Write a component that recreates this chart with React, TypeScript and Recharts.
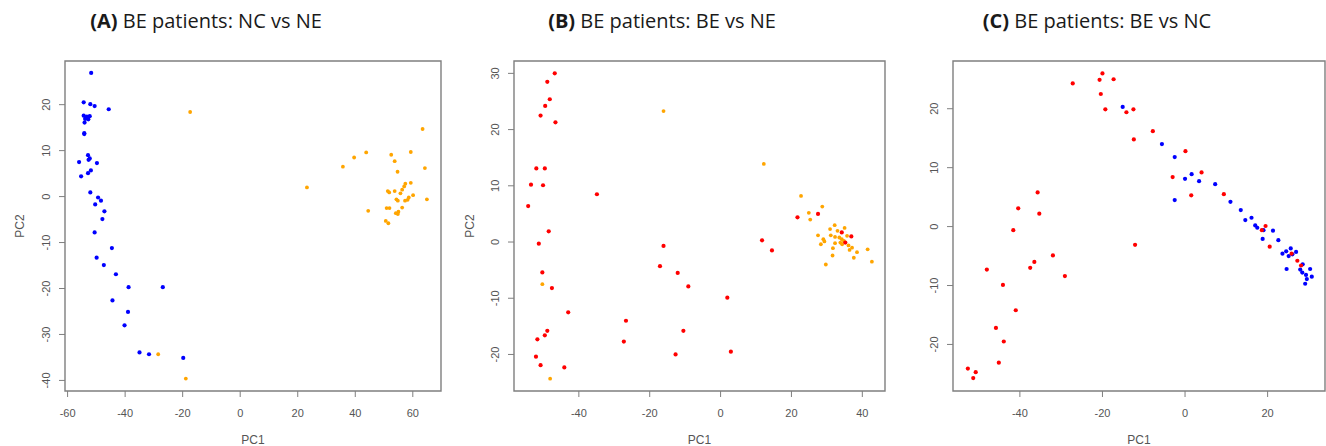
import { ScatterChart, Scatter, XAxis, YAxis, ReferenceArea } from 'recharts';

// PCA scores
const aNC = [
  [-51.8, 26.9], [-54.4, 20.5], [-52.1, 20.1], [-50.6, 19.7], [-45.7, 19.0],
  [-54.4, 17.6], [-53.3, 17.4], [-52.3, 17.5], [-53.9, 16.9], [-52.8, 16.8], [-53.5, 17.2],
  [-54.1, 16.1], [-54.2, 13.8], [-54.2, 13.6], [-52.9, 9.0], [-56.0, 7.5], [-52.7, 8.0],
  [-52.3, 8.3], [-49.8, 7.3], [-55.3, 4.4], [-52.9, 5.1], [-51.9, 5.7], [-52.1, 0.9],
  [-49.4, -0.2], [-48.4, -0.9], [-50.4, -1.7], [-47.2, -3.2], [-47.9, -4.9], [-50.6, -7.8],
  [-44.6, -11.2], [-49.9, -13.3], [-47.4, -14.9], [-43.2, -16.9], [-38.8, -19.7], [-26.9, -19.7],
  [-44.4, -22.6], [-39.0, -25.1], [-40.2, -28.0], [-35.0, -33.9], [-31.7, -34.3], [-19.8, -35.1],
];
const aNE = [
  [-17.4, 18.4], [-28.5, -34.3], [-18.9, -39.6], [23.2, 2.0], [35.7, 6.5], [39.6, 8.5],
  [43.8, 9.6], [44.5, -3.1], [52.5, 9.1], [59.3, 9.7], [53.7, 7.7], [54.7, 5.4], [63.4, 14.7],
  [64.2, 6.2], [64.9, -0.6], [57.4, 2.8], [59.3, 3.0], [57.0, 2.2], [56.3, 1.5], [55.7, 0.7],
  [53.7, 1.2], [51.3, 1.2], [51.8, 0.9], [60.1, 0.3], [58.6, -0.2], [58.2, -0.7], [57.3, -0.9],
  [54.3, -0.6], [54.8, -0.9], [50.9, -2.5], [51.9, -2.5], [56.3, -2.4], [55.0, -3.3],
  [54.1, -3.6], [54.8, -3.8], [50.6, -5.3], [51.5, -5.8],
];
const bBE = [
  [-46.8, 30.0], [-48.9, 28.5], [-48.2, 25.4], [-49.5, 24.2], [-50.8, 22.5], [-46.6, 21.3],
  [-52.0, 13.1], [-49.6, 13.1], [-53.5, 10.2], [-50.1, 10.1], [-34.9, 8.5], [-54.3, 6.4],
  [-48.5, 1.9], [-51.3, -0.3], [-50.3, -5.4], [-47.6, -8.2], [-43.0, -12.5], [-48.9, -15.8],
  [-49.6, -16.6], [-51.7, -17.3], [-52.1, -20.4], [-50.8, -21.9], [-44.1, -22.3], [-16.1, -0.7],
  [-17.1, -4.3], [-12.1, -5.5], [-9.1, -7.9], [-26.7, -14.0], [-27.3, -17.7], [-10.5, -15.8],
  [-12.7, -20.0], [1.9, -9.9], [2.9, -19.5], [11.7, 0.3], [14.5, -1.5], [21.7, 4.4],
  [27.5, 5.0], [34.2, 1.7], [36.9, 1.0], [35.2, -0.1],
];
const bNE = [
  [-16.1, 23.3], [12.2, 13.9], [-50.3, -7.5], [-48.1, -24.3], [22.7, 8.2], [28.7, 6.3],
  [24.9, 5.2], [25.3, 4.0], [32.2, 3.0], [35.0, 2.5], [30.9, 2.3], [33.0, 2.0], [27.5, 1.2],
  [31.1, 1.2], [32.3, 0.9], [33.5, 0.8], [34.2, 0.5], [35.7, 1.1], [29.0, 0.5], [29.3, 0.1],
  [28.3, -0.4], [32.3, -0.2], [34.3, -0.4], [36.1, -0.6], [31.7, -1.1], [37.1, -1.0],
  [36.4, -1.4], [38.5, -1.8], [41.5, -1.3], [31.6, -2.4], [37.6, -2.8], [42.7, -3.5],
  [29.7, -4.0], [34.8, 0.2], [33.8, -0.1],
];
const cNC = [
  [-15.1, 20.3], [-5.6, 14.0], [-2.5, 11.8], [-2.5, 4.5], [0.0, 8.1], [1.6, 8.9], [3.4, 7.7],
  [7.3, 7.2], [11.0, 4.2], [13.5, 2.8], [14.6, 1.1], [16.1, 1.5], [17.0, 0.2], [17.5, -0.2],
  [19.0, -0.6], [18.8, -2.1], [21.3, -0.7], [22.6, -2.3], [23.6, -4.6], [24.5, -4.2],
  [25.6, -3.7], [25.1, -5.0], [26.0, -4.7], [26.9, -4.3], [24.6, -7.2], [28.5, -6.4],
  [27.9, -7.3], [28.4, -7.8], [29.3, -8.2], [30.3, -7.2], [30.7, -8.5], [29.5, -8.9], [29.1, -9.7],
];
const cBE = [
  [-52.6, -24.1], [-51.3, -25.7], [-50.7, -24.7], [-48.0, -7.3], [-45.1, -23.1], [-45.8, -17.2],
  [-44.1, -9.9], [-43.9, -19.5], [-41.0, -14.2], [-41.6, -0.6], [-40.4, 3.1], [-37.5, -7.0],
  [-36.5, -6.0], [-35.7, 5.8], [-35.3, 2.2], [-32.0, -4.9], [-29.1, -8.4], [-27.2, 24.3],
  [-20.7, 24.9], [-20.0, 26.0], [-20.4, 22.5], [-19.3, 19.9], [-17.3, 25.0], [-14.2, 19.4],
  [-12.5, 19.9], [-12.4, 14.8], [-12.1, -3.1], [-7.8, 16.2], [-3.0, 8.4], [0.1, 12.8],
  [1.5, 5.3], [4.0, 9.2], [9.4, 5.5], [19.5, 0.1], [18.6, -0.6], [20.5, -3.4], [27.2, -5.8],
  [25.8, -4.6], [28.1, -6.6],
];

const xTicksA = [-60, -40, -20, 0, 20, 40, 60];
const yTicksA = [-40, -30, -20, -10, 0, 10, 20];
const xTicksB = [-40, -20, 0, 20, 40];
const yTicksB = [-20, -10, 0, 10, 20, 30];
const xTicksC = [-40, -20, 0, 20];
const yTicksC = [-20, -10, 0, 10, 20];

const BLUE = '#0000ff';
const ORANGE = '#ffa500';
const RED = '#ff0000';
const LINE = '#7f7f7f';
const TEXT = '#555555';
const AXIS_FONT = '"Liberation Sans", Arial, sans-serif';

const toPts = (arr: number[][]) => arr.map(([x, y]) => ({ x, y }));

const YTick = (props: any) => {
  const { x, y, payload } = props;
  const tx = x - 7;
  return (
    <text x={tx} y={y} transform={`rotate(-90 ${tx} ${y})`} textAnchor="middle"
      fill={TEXT} fontSize={11} fontFamily={AXIS_FONT}>
      {payload.value}
    </text>
  );
};

type Series = { data: number[][]; color: string; r: number };

const Panel = ({ left, width, yw, xDomain, yDomain, xTicks, yTicks, series, pc2X }: {
  left: number; width: number; yw: number; xDomain: number[]; yDomain: number[];
  xTicks: number[]; yTicks: number[]; series: Series[]; pc2X: number | null;
}) => (
  <div style={{ position: 'absolute', left, top: 0 }}>
    <ScatterChart width={width} height={446} margin={{ top: 61, right: 1, bottom: 0, left: 0 }}>
      <XAxis type="number" dataKey="x" domain={xDomain} ticks={xTicks} interval={0}
        allowDataOverflow axisLine={false} tickSize={6} tickMargin={12}
        tickLine={{ stroke: LINE }} height={55}
        tick={{ fill: TEXT, fontSize: 11, fontFamily: AXIS_FONT }}
        label={{ value: 'PC1', position: 'insideBottom', offset: 2, fill: TEXT, fontSize: 12, fontFamily: AXIS_FONT }} />
      <YAxis type="number" dataKey="y" domain={yDomain} ticks={yTicks} interval={0}
        allowDataOverflow axisLine={false} tickSize={6} width={yw}
        tickLine={{ stroke: LINE }} tick={<YTick />}
        label={pc2X === null ? undefined : (p: any) => {
          const cx = pc2X;
          const cy = p.viewBox.y + p.viewBox.height / 2;
          return (
            <text x={cx + 4} y={cy} transform={`rotate(-90 ${cx + 4} ${cy})`} textAnchor="middle"
              fill={TEXT} fontSize={12} fontFamily={AXIS_FONT}>PC2</text>
          );
        }} />
      <ReferenceArea x1={xDomain[0]} x2={xDomain[1]} y1={yDomain[0]} y2={yDomain[1]}
        fill="none" stroke={LINE} strokeWidth={1.4} fillOpacity={0} />
      {series.map((s, i) => (
        <Scatter key={i} data={toPts(s.data)} isAnimationActive={false}
          shape={(p: any) => <circle cx={p.cx} cy={p.cy} r={s.r} fill={s.color} />} />
      ))}
    </ScatterChart>
  </div>
);

const TITLE_FONT = '"Open Sans", Lato, sans-serif';

export default function App() {
  return (
    <div style={{ position: 'fixed', left: 0, top: 0, width: 1326, height: 446, background: '#fff' }}>
      <Panel left={0} width={442} yw={65} xDomain={[-60.9, 69.8]} yDomain={[-42.3, 29.5]}
        xTicks={xTicksA} yTicks={yTicksA} pc2X={20}
        series={[{ data: aNC, color: BLUE, r: 2.1 }, { data: aNE, color: ORANGE, r: 1.9 }]} />
      <Panel left={442} width={444} yw={72} xDomain={[-58.3, 46.4]} yDomain={[-26.5, 32.2]}
        xTicks={xTicksB} yTicks={yTicksB} pc2X={28}
        series={[{ data: bNE, color: ORANGE, r: 1.9 }, { data: bBE, color: RED, r: 2.1 }]} />
      <Panel left={884} width={442} yw={69} xDomain={[-56.2, 33.9]} yDomain={[-27.9, 28.1]}
        xTicks={xTicksC} yTicks={yTicksC} pc2X={null}
        series={[{ data: cNC, color: BLUE, r: 2.1 }, { data: cBE, color: RED, r: 2.1 }]} />
      <svg width={1326} height={50} style={{ position: 'absolute', left: 0, top: 0 }}>
        <text x={206} y={28} textAnchor="middle" fontFamily={TITLE_FONT} fontSize={20} fill="#1a1a1a">
          <tspan fontWeight="bold">(A)</tspan> BE patients: NC vs NE
        </text>
        <text x={662} y={28} textAnchor="middle" fontFamily={TITLE_FONT} fontSize={20} fill="#1a1a1a">
          <tspan fontWeight="bold">(B)</tspan> BE patients: BE vs NE
        </text>
        <text x={1097} y={28} textAnchor="middle" fontFamily={TITLE_FONT} fontSize={20} fill="#1a1a1a">
          <tspan fontWeight="bold">(C)</tspan> BE patients: BE vs NC
        </text>
      </svg>
    </div>
  );
}
